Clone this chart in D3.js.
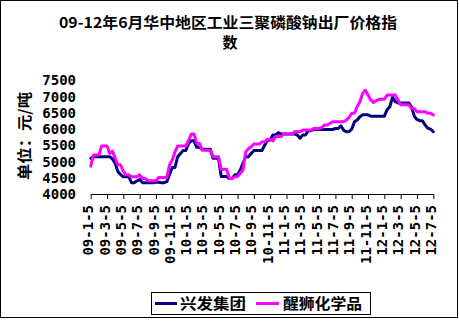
<!DOCTYPE html>
<html>
<head>
<meta charset="utf-8">
<script src="https://cdn.jsdelivr.net/npm/d3@7"></script>
<style>
  html, body { margin: 0; padding: 0; background: #fff; }
  svg { display: block; }
  .mono { font-family: "DejaVu Sans Mono", monospace; font-weight: bold; }
  .cjk { font-family: "Noto Sans CJK SC", sans-serif; font-weight: bold; }
</style>
</head>
<body>
<svg id="chart" width="459" height="323"></svg>
<script>
// Ten-day sampling dates (5th, 15th, 25th of each month), 2009-01 .. 2012-07-05
const years = ["09", "10", "11", "12"];
const days = [5, 15, 25];
const lastCategory = "12-7-5";

const tickLabels = [
  "09-1-5", "09-3-5", "09-5-5", "09-7-5", "09-9-5", "09-11-5",
  "10-1-5", "10-3-5", "10-5-5", "10-7-5", "10-9-5", "10-11-5",
  "11-1-5", "11-3-5", "11-5-5", "11-7-5", "11-9-5", "11-11-5",
  "12-1-5", "12-3-5", "12-5-5", "12-7-5"
];

const yTicks = [4000, 4500, 5000, 5500, 6000, 6500, 7000, 7500];

const seriesNames = ["兴发集团", "醒狮化学品"];
const seriesColors = ["#000080", "#FF00FF"];

// 兴发集团 (元/吨)
const xingfa = [
  5100, 5150, 5150, 5150, 5150, 5150, 5150, 5150, 5080, 4950,
  4690, 4600, 4530, 4530, 4530, 4350, 4350, 4400, 4450, 4350,
  4350, 4350, 4350, 4350, 4360, 4360, 4350, 4350, 4380, 4600,
  4820, 4820, 5150, 5250, 5340, 5340, 5560, 5640, 5640, 5440,
  5440, 5380, 5380, 5380, 5380, 5100, 5100, 5100, 4540, 4540,
  4540, 4480, 4480, 4590, 4590, 4740, 4950, 5150, 5150, 5250,
  5340, 5340, 5340, 5340, 5510, 5660, 5660, 5820, 5820, 5890,
  5850, 5850, 5850, 5850, 5850, 5850, 5820, 5720, 5820, 5820,
  5950, 5950, 5990, 5990, 5990, 5990, 5990, 5990, 5990, 5990,
  6020, 6020, 6100, 5970, 5920, 5920, 6000, 6230, 6280, 6380,
  6440, 6440, 6440, 6400, 6400, 6400, 6400, 6400, 6400, 6600,
  6690, 6980, 6850, 6810, 6810, 6810, 6810, 6810, 6690, 6400,
  6300, 6260, 6260, 6130, 6030, 6000, 5920
];

// 醒狮化学品 (元/吨)
const xingshi = [
  4860, 5200, 5200, 5200, 5480, 5480, 5480, 5250, 5320, 5100,
  4900, 4900, 4700, 4590, 4590, 4530, 4530, 4530, 4590, 4480,
  4480, 4410, 4410, 4410, 4410, 4510, 4510, 4510, 4510, 4900,
  5050, 5300, 5480, 5480, 5480, 5480, 5650, 5850, 5850, 5560,
  5560, 5350, 5350, 5350, 5350, 5150, 5150, 5150, 4750, 4760,
  4760, 4480, 4480, 4530, 4540, 4640, 4740, 5300, 5400, 5450,
  5540, 5540, 5540, 5610, 5610, 5690, 5690, 5640, 5770, 5770,
  5770, 5850, 5850, 5850, 5850, 5920, 5920, 5920, 5970, 5970,
  5970, 5970, 6020, 6020, 6020, 6050, 6130, 6130, 6180, 6230,
  6230, 6230, 6230, 6230, 6280, 6360, 6490, 6490, 6690, 6850,
  7100, 7200, 7050, 6900, 6820, 6880, 6920, 6920, 6920, 7050,
  7050, 7050, 7050, 6900, 6750, 6750, 6750, 6750, 6640, 6640,
  6540, 6540, 6540, 6540, 6490, 6490, 6440
];

// enumerate the sampling dates in order
const categories = [];
outer:
for (const yy of years) {
  for (let m = 1; m <= 12; m++) {
    for (const d of days) {
      const c = `${yy}-${m}-${d}`;
      categories.push(c);
      if (c === lastCategory) break outer;
    }
  }
}

const svg = d3.select("#chart");

// outer chart frame
svg.append("rect")
  .attr("x", 0.5).attr("y", 0.5)
  .attr("width", 457).attr("height", 317)
  .attr("fill", "#fff").attr("stroke", "#000").attr("stroke-width", 1);

// title (wrapped onto two lines)
svg.append("text").attr("class", "cjk")
  .attr("text-anchor", "middle").attr("font-size", 15).attr("fill", "#000")
  .attr("x", 228).attr("y", 28)
  .attr("textLength", 338).attr("lengthAdjust", "spacingAndGlyphs")
  .text("09-12年6月华中地区工业三聚磷酸钠出厂价格指");
svg.append("text").attr("class", "cjk")
  .attr("text-anchor", "middle").attr("font-size", 15).attr("fill", "#000")
  .attr("x", 230).attr("y", 48)
  .text("数");

const x = d3.scalePoint().domain(categories).range([90.7, 433.3]);
const y = d3.scaleLinear().domain([4000, 7500]).range([194, 80.5]);

// x axis with vertical date labels
const xAxis = svg.append("g")
  .attr("transform", "translate(0,194)")
  .call(d3.axisBottom(x).tickValues(tickLabels).tickSize(5).tickSizeOuter(0));
xAxis.select(".domain").attr("stroke", "#000");
xAxis.selectAll(".tick line").attr("stroke", "#000");
xAxis.selectAll(".tick text")
  .attr("class", "mono")
  .attr("font-size", 14)
  .attr("fill", "#000")
  .attr("x", 0).attr("y", 0).attr("dy", "0.36em")
  .attr("text-anchor", "end")
  .attr("transform", "translate(-3,11) rotate(-90)");

// y axis: labels only
const yAxis = svg.append("g")
  .attr("transform", "translate(79,0)")
  .call(d3.axisLeft(y).tickValues(yTicks).tickFormat(d3.format("d"))
    .tickSize(0).tickPadding(3));
yAxis.select(".domain").remove();
yAxis.selectAll(".tick text")
  .attr("class", "mono")
  .attr("font-size", 14)
  .attr("fill", "#000");

// y axis title
svg.append("text").attr("class", "cjk")
  .attr("font-size", 15).attr("fill", "#000")
  .attr("text-anchor", "middle")
  .attr("transform", "translate(30,136) rotate(-90)")
  .attr("textLength", 88).attr("lengthAdjust", "spacingAndGlyphs")
  .text("单位：元/吨");

// price lines
const line = d3.line()
  .x((d, i) => x(categories[i]))
  .y(d => y(d));

[xingfa, xingshi].forEach((vals, k) => {
  svg.append("path")
    .datum(vals)
    .attr("d", line)
    .attr("fill", "none")
    .attr("stroke", seriesColors[k])
    .attr("stroke-width", 3)
    .attr("stroke-linejoin", "round")
    .attr("stroke-linecap", "round");
});

// legend
const legend = svg.append("g");
legend.append("rect")
  .attr("x", 151.5).attr("y", 292.5)
  .attr("width", 219).attr("height", 22)
  .attr("fill", "#fff").attr("stroke", "#000").attr("stroke-width", 1);
const legendItems = [
  { x0: 155, x1: 177, tx: 180, tw: 66 },
  { x0: 256, x1: 279, tx: 283, tw: 79 }
];
legendItems.forEach((it, k) => {
  legend.append("line")
    .attr("x1", it.x0).attr("x2", it.x1)
    .attr("y1", 303.5).attr("y2", 303.5)
    .attr("stroke", seriesColors[k]).attr("stroke-width", 3);
  legend.append("text").attr("class", "cjk")
    .attr("x", it.tx).attr("y", 309)
    .attr("font-size", 15).attr("fill", "#000")
    .attr("textLength", it.tw).attr("lengthAdjust", "spacingAndGlyphs")
    .text(seriesNames[k]);
});
</script>
</body>
</html>
